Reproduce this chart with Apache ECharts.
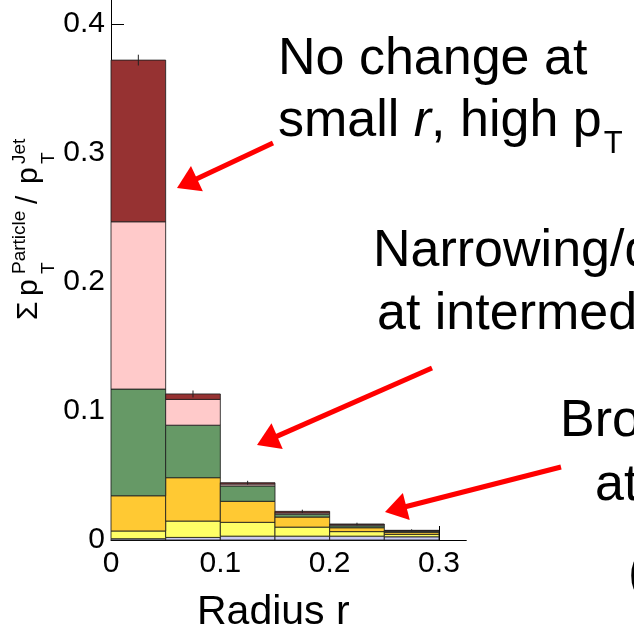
<!DOCTYPE html>
<html><head><meta charset="utf-8">
<script src="https://cdn.jsdelivr.net/npm/echarts@6/dist/echarts.min.js"></script>
<style>html,body{margin:0;padding:0;background:#fff}#c{width:634px;height:635px}</style>
</head><body><div id="c"></div>
<script>
// ---- data ----
const binEdges = [0, 0.05, 0.1, 0.15, 0.2, 0.25, 0.3];
const lavender    = [0.001, 0.002, 0.003, 0.003, 0.003, 0.0025];
const lightYellow = [0.006, 0.0127, 0.0107, 0.007, 0.0035, 0.0019];
const orange      = [0.0273, 0.0336, 0.0163, 0.0078, 0.003, 0.0016];
const green       = [0.0827, 0.0407, 0.0119, 0.0022, 0.0015, 0.0008];
const pink        = [0.1297, 0.020, 0.0015, 0.001, 0.0008, 0.0004];
const darkRed     = [0.1253, 0.0042, 0.001, 0.0012, 0.0006, 0.0003];
const errors      = [0.0042, 0.0027, 0.0015, 0.0013, 0.001, 0.0008];
const xTickValues = [0, 0.1, 0.2, 0.3];
const yTickValues = [0, 0.1, 0.2, 0.3, 0.4];
const yMinorTickValues = [0.05, 0.15, 0.25, 0.35];

const layers = [
  {name: 'layer1', values: lavender,    color: '#c9c9f2'},
  {name: 'layer2', values: lightYellow, color: '#ffff66'},
  {name: 'layer3', values: orange,      color: '#ffc933'},
  {name: 'layer4', values: green,       color: '#669966'},
  {name: 'layer5', values: pink,        color: '#ffcaca'},
  {name: 'layer6', values: darkRed,     color: '#963232'}
];

const FONT = '"Liberation Sans", Arial, Helvetica, sans-serif';
const Y_MAX = 0.4186;
const cum = binEdges.slice(0, -1).map(() => 0);
const series = layers.map(l => {
  const data = l.values.map((v, i) => {
    const b = cum[i]; cum[i] += v;
    return [binEdges[i], binEdges[i + 1], b, cum[i]];
  });
  return {
    type: 'custom', name: l.name, color: l.color,
    encode: {x: [0, 1], y: [2, 3]},
    data: data,
    renderItem: function (params, api) {
      const p0 = api.coord([api.value(0), api.value(3)]);
      const p1 = api.coord([api.value(1), api.value(2)]);
      return {type: 'rect',
        shape: {x: p0[0], y: p0[1], width: p1[0] - p0[0], height: p1[1] - p0[1]},
        style: {fill: api.visual('color'), stroke: 'rgba(30,30,30,0.85)', lineWidth: 1}};
    }
  };
});
series.push({
  type: 'custom', name: 'errors', color: '#000',
  encode: {x: 0, y: 1},
  data: cum.map((t, i) => [(binEdges[i] + binEdges[i + 1]) / 2, t, errors[i]]),
  renderItem: function (params, api) {
    const a = api.coord([api.value(0), api.value(1) + api.value(2)]);
    const b = api.coord([api.value(0), api.value(1) - api.value(2)]);
    return {type: 'line', shape: {x1: a[0], y1: a[1], x2: b[0], y2: b[1]},
      style: {stroke: '#222', lineWidth: 1}};
  },
  z: 5
});

// ---- annotation helpers ----
function arrow(tail, tip) {
  const dx = tip[0] - tail[0], dy = tip[1] - tail[1], L = Math.hypot(dx, dy);
  const ux = dx / L, uy = dy / L, hl = 22, hw = 14;
  const bx = tip[0] - ux * hl, by = tip[1] - uy * hl;
  return [
    {type: 'line', shape: {x1: tail[0], y1: tail[1], x2: bx + ux * 3, y2: by + uy * 3},
      style: {stroke: '#ff0000', lineWidth: 5}, z: 20},
    {type: 'polygon', shape: {points: [tip, [bx - uy * hw, by + ux * hw], [bx + uy * hw, by - ux * hw]]},
      style: {fill: '#ff0000'}, z: 20}
  ];
}
const ctx = document.createElement('canvas').getContext('2d');
function textW(str, size, style) {
  ctx.font = (style || '') + ' ' + size + 'px ' + FONT;
  return ctx.measureText(str).width;
}
function txt(str, x, baseline, size, extra) {
  return Object.assign({type: 'text', x: x, y: baseline - 0.3465 * size, z: 30,
    style: {text: str, fill: '#000', fontSize: size, fontFamily: FONT, align: 'left', verticalAlign: 'middle'}}, extra || {});
}
const BIG = 52;
const line2a = 'small ', line2b = 'r', line2c = ', high p';
const x2b = 278 + textW(line2a, BIG);
const x2c = x2b + textW(line2b, BIG, 'italic');
const x2d = x2c + textW(line2c, BIG);

function yt(str, lx, ly, size) {
  return {type: 'text', x: lx, y: ly,
    style: {text: str, fill: '#000', fontSize: size, fontFamily: FONT, align: 'left', verticalAlign: 'middle'}};
}

const graphics = [
  txt('No change at', 278, 78, BIG),
  txt(line2a, 278, 140, BIG),
  {type: 'text', x: x2b, y: 140 - 0.3465 * BIG, z: 30,
    style: {text: line2b, fill: '#000', fontSize: BIG, fontFamily: FONT, fontStyle: 'italic', align: 'left', verticalAlign: 'middle'}},
  txt(line2c, x2c, 140, BIG),
  txt('T', x2d + 2, 155, 31),
  txt('Narrowing/depletion', 373, 270, BIG),
  txt('at intermediate r', 377, 333, BIG),
  txt('Broadening', 560, 440, BIG),
  txt('at large r', 595, 504, BIG),
  txt('(', 628, 593, BIG),
  txt('Radius r', 197, 627, 41),
  {type: 'group', x: 40, y: 320, rotation: Math.PI / 2, z: 30,
    children: [
      yt('Σ', 0, -11, 30),
      yt('p', 24, -11, 30),
      yt('T', 46, 9, 19),
      yt('Particle', 46, -20, 19),
      yt('/', 116, -11, 30),
      yt('p', 136, -11, 30),
      yt('T', 156, 9, 19),
      yt('Jet', 156, -20, 19)
    ]}
].concat(arrow([273, 143], [177, 188]))
 .concat(arrow([432, 368], [257, 445]))
 .concat(arrow([561, 467], [385, 512]));

const chart = echarts.init(document.getElementById('c'), null, {renderer: 'canvas'});
chart.setOption({
  animation: false,
  backgroundColor: '#fff',
  grid: {left: 111, top: 0, width: 355.3, height: 540, containLabel: false},
  xAxis: {
    type: 'value', min: 0, max: 0.325, interval: 0.1,
    axisLine: {show: true, onZero: false, lineStyle: {color: '#000', width: 1}},
    axisTick: {show: true, inside: true, length: 14, customValues: xTickValues, lineStyle: {color: '#000'}},
    axisLabel: {show: true, customValues: xTickValues, margin: 9, fontSize: 30, color: '#000', fontFamily: FONT,
      formatter: v => String(+v.toFixed(2))},
    splitLine: {show: false}
  },
  yAxis: [{
    type: 'value', min: 0, max: Y_MAX, interval: 0.1,
    axisLine: {show: true, lineStyle: {color: '#000', width: 1}},
    axisTick: {show: true, inside: true, length: 13, customValues: yTickValues, lineStyle: {color: '#000'}},
    axisLabel: {show: true, customValues: yTickValues, margin: 6, fontSize: 30, color: '#000', fontFamily: FONT,
      padding: [4, 0, 0, 0], formatter: v => String(+v.toFixed(2))},
    splitLine: {show: false}
  }, {
    type: 'value', min: 0, max: Y_MAX, position: 'left', offset: 0,
    axisLine: {show: false},
    axisTick: {show: true, inside: true, length: 6, customValues: yMinorTickValues, lineStyle: {color: '#000'}},
    axisLabel: {show: false},
    splitLine: {show: false}
  }],
  series: series,
  graphic: graphics
});
</script></body></html>
